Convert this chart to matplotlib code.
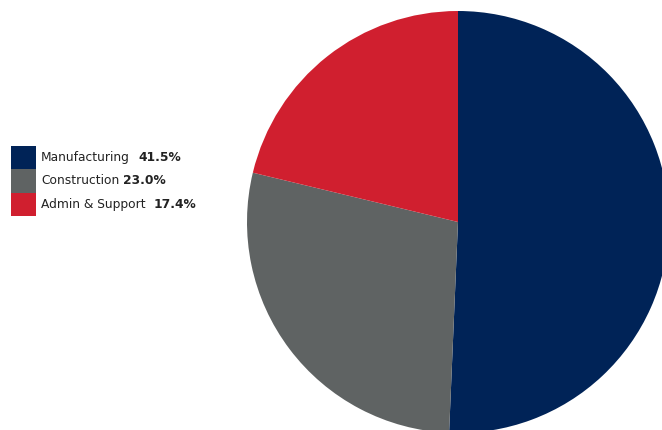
import matplotlib
matplotlib.use("Agg")
import matplotlib.pyplot as plt
from matplotlib.patches import Rectangle

# data
sectors = ["Manufacturing", "Construction", "Admin & Support"]
shares = [41.5, 23.0, 17.4]
share_labels = ["41.5%", "23.0%", "17.4%"]
colors = ["#002357", "#5f6363", "#d01f2f"]
label_gaps = [6, 3, 6]  # points between the name and the bold share

W, H = 662, 430
fig = plt.figure(figsize=(W / 100, H / 100), dpi=100)
ax = fig.add_axes([0, 0, 1, 1])

# pie is big and runs off the right / bottom edges
ax.pie(shares, colors=colors, startangle=90, counterclock=False,
       center=(458, H - 222), radius=211,
       wedgeprops=dict(linewidth=0))
ax.set_xlim(0, W)
ax.set_ylim(0, H)
ax.set_axis_off()

# hand made legend on the left
box_top = H - 146
box_h = 23.3
for i, (name, pct, col) in enumerate(zip(sectors, share_labels, colors)):
    y0 = box_top - (i + 1) * box_h
    ax.add_patch(Rectangle((11, y0), 25, box_h, facecolor=col, edgecolor="none"))
    yc = y0 + box_h / 2
    t = ax.text(41, yc, name, fontsize=8.8, color="#222222", va="center", ha="left")
    ax.annotate(pct, xy=(1, 0.5), xycoords=t, xytext=(label_gaps[i], 0),
                textcoords="offset points", fontsize=8.8, fontweight="bold",
                color="#222222", va="center", ha="left")

fig.savefig("out.png", dpi=100)
